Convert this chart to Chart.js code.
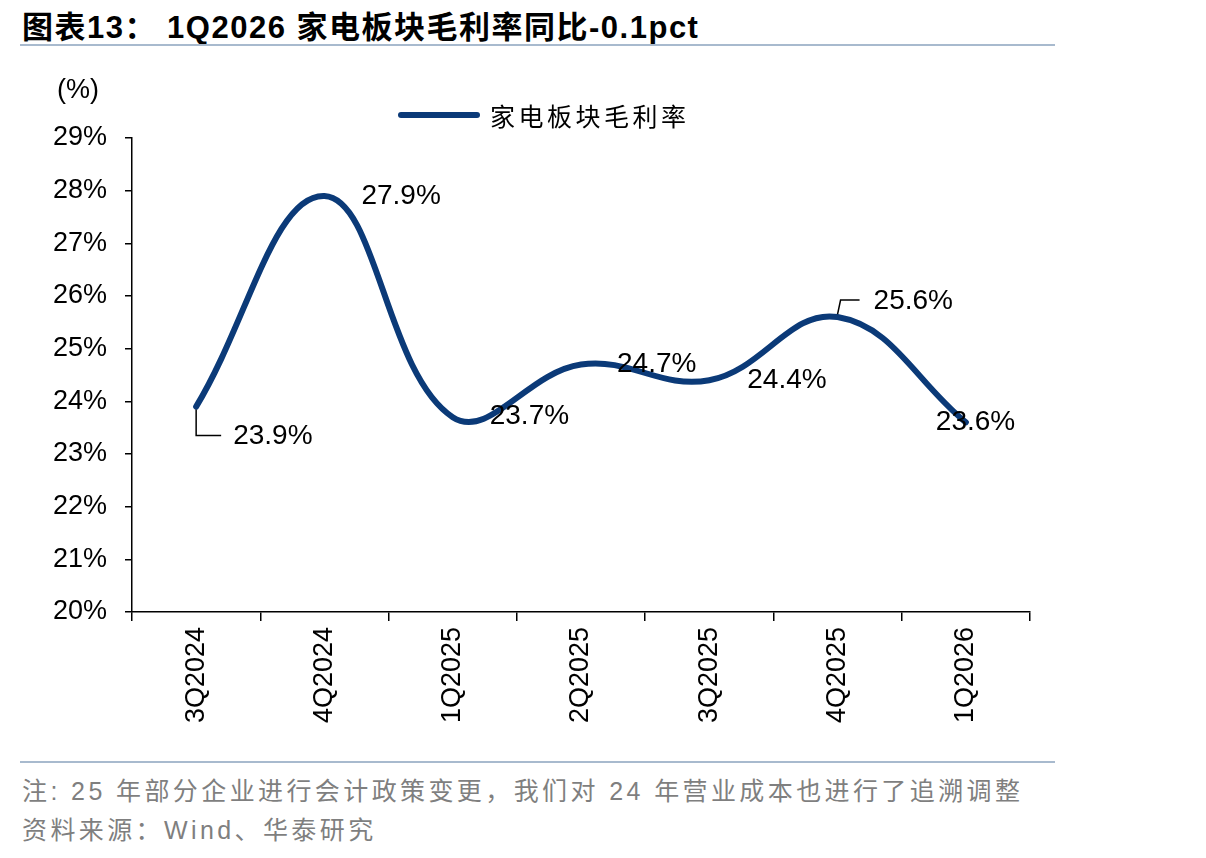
<!DOCTYPE html>
<html>
<head>
<meta charset="utf-8">
<script src="https://cdn.jsdelivr.net/npm/chart.js@4/dist/chart.umd.min.js"></script>
<style>
  html, body { margin: 0; padding: 0; background: #fff; }
  body { width: 1206px; height: 858px; position: relative; overflow: hidden;
         font-family: "Liberation Sans", "Noto Sans CJK SC", sans-serif; }
  #title { position: absolute; left: 22px; top: 2px; font-size: 31px; font-weight: bold;
           letter-spacing: 1.5px; color: #000; white-space: nowrap; }
  .rule { position: absolute; left: 20px; width: 1035px; height: 2px; background: #a8bace; }
  #wrap { position: absolute; left: 0; top: 60px; width: 1060px; height: 700px; }
  #unit { position: absolute; left: 57px; top: 74px; font-size: 27px; color: #000; }
  #legend { position: absolute; left: 398px; top: 97px; height: 36px; display: flex; align-items: center; }
  #legend .sw { width: 82px; height: 6px; border-radius: 3px; background: #0b3a78; margin-right: 10px; }
  #legend .tx { font-family: "Noto Sans CJK SC", sans-serif; font-size: 25px; letter-spacing: 3.5px; color: #000; }
  .note { position: absolute; left: 22px; font-family: "Liberation Sans", "Noto Sans CJK SC", sans-serif;
          font-size: 25px; letter-spacing: 3.4px; color: #7f7f7f; white-space: nowrap; }
</style>
</head>
<body>
<div id="title">图表13：&nbsp;1Q2026 家电板块毛利率同比-0.1pct</div>
<div class="rule" style="top:44px"></div>
<div id="wrap"><canvas id="chart"></canvas></div>
<div id="unit">(%)</div>
<div id="legend"><span class="sw"></span><span class="tx">家电板块毛利率</span></div>
<div class="rule" style="top:761px"></div>
<div class="note" style="top:771px">注: 25 年部分企业进行会计政策变更，我们对 24 年营业成本也进行了追溯调整</div>
<div class="note" style="top:810px">资料来源：Wind、华泰研究</div>
<script>
(() => {
  "use strict";
  // data
  const quarters = ["3Q2024", "4Q2024", "1Q2025", "2Q2025", "3Q2025", "4Q2025", "1Q2026"];
  const grossMargin = [23.9, 27.9, 23.7, 24.7, 24.4, 25.6, 23.6];
  const yTicks = [20, 21, 22, 23, 24, 25, 26, 27, 28, 29];

  const LINE = "#0b3a78";
  const FONT = '"Liberation Sans", Arial, sans-serif';

  // label placement relative to each point (dx to text left, dy from point)
  const labelPos = [
    { dx: 37, dy: 30, leader: [[0, 3], [0, 29], [25, 29]] },
    { dx: 37, dy: 0 },
    { dx: 37, dy: -1 },
    { dx: 36, dy: 0 },
    { dx: 38, dy: 0 },
    { dx: 36, dy: -16, leader: [[0, -3], [3, -17], [22, -17]] },
    { dx: -30, dy: 0 },
  ];

  const valueLabels = {
    id: "valueLabels",
    afterDatasetsDraw(chart) {
      const ctx = chart.ctx;
      const meta = chart.getDatasetMeta(0);
      ctx.save();
      ctx.font = "28px " + FONT;
      ctx.fillStyle = "#000";
      ctx.textAlign = "left";
      ctx.textBaseline = "middle";
      meta.data.forEach((pt, i) => {
        const p = labelPos[i];
        if (p.leader) {
          ctx.beginPath();
          ctx.strokeStyle = "#000";
          ctx.lineWidth = 1.5;
          p.leader.forEach(([lx, ly], k) => {
            if (k === 0) ctx.moveTo(pt.x + lx, pt.y + ly);
            else ctx.lineTo(pt.x + lx, pt.y + ly);
          });
          ctx.stroke();
        }
        ctx.fillText(grossMargin[i].toFixed(1) + "%", pt.x + p.dx, pt.y + p.dy);
      });
      ctx.restore();
    },
  };

  new Chart(document.getElementById("chart"), {
    type: "line",
    data: {
      labels: quarters,
      datasets: [{
        label: "家电板块毛利率",
        data: grossMargin,
        borderColor: LINE,
        borderWidth: 6,
        borderCapStyle: "round",
        borderJoinStyle: "round",
        pointRadius: 0,
        tension: 0.4,
        fill: false,
      }],
    },
    options: {
      responsive: true,
      maintainAspectRatio: false,
      animation: false,
      layout: { padding: { top: 78, right: 30, left: 0, bottom: 0 } },
      plugins: { legend: { display: false }, tooltip: { enabled: false } },
      scales: {
        x: {
          offset: true,
          grid: { offset: true, drawOnChartArea: false, drawTicks: true, tickLength: 9,
                  color: "#000", lineWidth: 1.5 },
          border: { color: "#000", width: 1.5 },
          ticks: { color: "#000", font: { size: 27, family: FONT }, maxRotation: 90, minRotation: 90,
                   padding: 6, autoSkip: false },
          afterFit: (s) => { s.height = 148; },
        },
        y: {
          min: yTicks[0],
          max: yTicks[yTicks.length - 1],
          afterBuildTicks: (s) => { s.ticks = yTicks.map((v) => ({ value: v })); },
          grid: { drawOnChartArea: false, drawTicks: true, tickLength: 7, color: "#000", lineWidth: 1.5 },
          border: { color: "#000", width: 1.5 },
          ticks: { color: "#000", font: { size: 27, family: FONT }, padding: 18,
                   callback: (v) => v + "%" },
          afterFit: (s) => { s.width = 132; },
        },
      },
    },
    plugins: [valueLabels],
  });
})();
</script>
</body>
</html>
